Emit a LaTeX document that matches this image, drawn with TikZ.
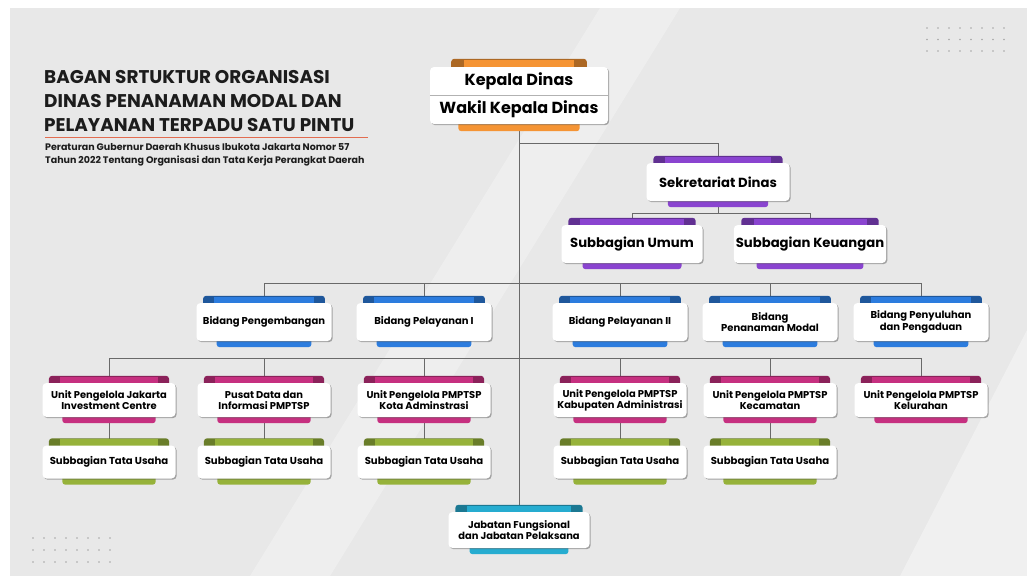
\documentclass[tikz,border=0pt]{standalone}
\usepackage{fontspec}
\setmainfont{Poppins}
\usetikzlibrary{positioning,shadows,calc}
\definecolor{BgGray}{RGB}{232,232,232}
\definecolor{LineGray}{RGB}{105,105,105}
\definecolor{TitleInk}{RGB}{28,28,28}
\definecolor{RuleRed}{RGB}{226,108,80}
\definecolor{Orange1}{RGB}{245,148,52}
\definecolor{Purple1}{RGB}{138,68,208}
\definecolor{Blue1}{RGB}{44,124,222}
\definecolor{Pink1}{RGB}{198,48,128}
\definecolor{Green1}{RGB}{150,178,58}
\definecolor{Cyan1}{RGB}{38,172,208}
\pgfdeclarelayer{bg}
\pgfdeclarelayer{tabs}
\pgfsetlayers{bg,tabs,main}
\tikzstyle{box} = [rectangle, fill=white, rounded corners=4pt, align=center,
    text=black, inner sep=2pt,
    drop shadow={shadow xshift=1.2pt, shadow yshift=-1.2pt, opacity=0.45, fill=black!70}]
\tikzstyle{line} = [draw=LineGray, line width=1pt]
\tikzstyle{sekre} = [box, minimum height=38pt, font=\fontsize{13.2}{15}\selectfont\bfseries]
\tikzstyle{bidang} = [box, minimum width=135pt, minimum height=38pt, font=\fontsize{10}{11.5}\selectfont\bfseries]
\tikzstyle{unit} = [box, minimum width=133pt, minimum height=34pt, font=\fontsize{9.9}{10.8}\selectfont\bfseries]
\tikzstyle{tatausaha} = [box, minimum width=133pt, minimum height=33pt, font=\fontsize{10.1}{11}\selectfont\bfseries]

\begin{document}
\begin{tikzpicture}[x=1pt, y=-1pt]
  \useasboundingbox (0,0) rectangle (1033,576);
  % background
  \begin{pgfonlayer}{bg}
    \fill[BgGray] (10,8) rectangle (1027,576);
    \fill[white, opacity=0.3] (250,576) -- (330,576) -- (680,8) -- (600,8) -- cycle;
    \fill[white, opacity=0.35] (900,576) -- (1027,576) -- (1027,330) -- cycle;
    \foreach \i in {0,...,7}
      \foreach \j in {0,1,2} {
        \fill[gray!70] (927+\i*11, 28+\j*11.5) circle (0.9pt);
        \fill[gray!70] (33+\i*11, 538+\j*12) circle (0.9pt);
      }
  \end{pgfonlayer}
  % title
  \node[anchor=north west, inner sep=0pt, align=left, text=TitleInk,
        font=\fontsize{18.4}{24}\selectfont\bfseries] (title) at (44,70)
        {BAGAN SRTUKTUR ORGANISASI\\DINAS PENANAMAN MODAL DAN\\PELAYANAN TERPADU SATU PINTU};
  \draw[RuleRed, line width=0.8pt] (45,137) -- (368,137);
  \node[anchor=north west, inner sep=0pt, align=left, text=TitleInk,
        font=\fontsize{9.5}{13}\selectfont\bfseries] (subtitle) at (45,143)
        {Peraturan Gubernur Daerah Khusus Ibukota Jakarta Nomor 57\\Tahun 2022 Tentang Organisasi dan Tata Kerja Perangkat Daerah};
  % top
  \node[box, minimum width=178pt, minimum height=57pt, font=\fontsize{16}{28}\selectfont\bfseries] (kd) at (519,95.5)
        {Kepala Dinas\\Wakil Kepala Dinas};
  \draw[gray!60, line width=0.8pt] (kd.west) -- (kd.east);
  \node[sekre, minimum width=143pt] (sek) at (718,182) {Sekretariat Dinas};
  \node[sekre, minimum width=141pt] (su) at (632,244) {Subbagian Umum};
  \node[sekre, minimum width=145pt] (sk) at (810,244) {Subbagian Keuangan};
  % bidang
  \node[bidang] (bp1) at (264,322) {Bidang Pengembangan};
  \node[bidang] (bp2) at (424,322) {Bidang Pelayanan I};
  \node[bidang] (bp3) at (620,322) {Bidang Pelayanan II};
  \node[bidang] (bp4) at (770,322) {Bidang\\Penanaman Modal};
  \node[bidang] (bp5) at (921,322) {Bidang Penyuluhan\\dan Pengaduan};
  % unit pengelola
  \node[unit] (u1) at (109,400) {Unit Pengelola Jakarta\\Investment Centre};
  \node[unit] (u2) at (264,400) {Pusat Data dan\\Informasi PMPTSP};
  \node[unit] (u3) at (424,400) {Unit Pengelola PMPTSP\\Kota Adminstrasi};
  \node[unit] (u4) at (620,400) {Unit Pengelola PMPTSP\\Kabupaten Administrasi};
  \node[unit] (u5) at (770,400) {Unit Pengelola PMPTSP\\Kecamatan};
  \node[unit] (u6) at (921,400) {Unit Pengelola PMPTSP\\Kelurahan};
  % subbagian tata usaha
  \foreach \i/\x in {1/109, 2/264, 3/424, 4/620, 5/770}
    \node[tatausaha] (tu\i) at (\x,462) {Subbagian Tata Usaha};
  \node[unit, minimum width=141pt, minimum height=36pt] (jf) at (519,530) {Jabatan Fungsional\\dan Jabatan Pelaksana};
  % connectors and tabs behind the boxes
  \begin{pgfonlayer}{tabs}
    \coordinate (bsek) at (519,143);
    \coordinate (bsub) at (718,213);
    \coordinate (bbid) at (519,283);
    \coordinate (bunit) at (519,358);
    \path[line] (kd.south) -- (jf.north);
    \path[line] (bsek) -| (sek.north);
    \path[line] (sek.south) -- (bsub);
    \foreach \n in {su,sk}
      \path[line] (bsub) -| (\n.north);
    \foreach \n in {bp1,bp2,bp3,bp4,bp5}
      \path[line] (bbid) -| (\n.north);
    \foreach \n in {u1,u2,u3,u4,u5,u6}
      \path[line] (bunit) -| (\n.north);
    \foreach \i in {1,...,5}
      \path[line] (u\i) -- (tu\i);
    %
    \fill[Orange1!70!black, rounded corners=3pt]
      ([yshift=-4pt]$(kd.north west)!0.12!(kd.north east)$) rectangle ([yshift=8pt]$(kd.north west)!0.88!(kd.north east)$);
    \fill[Orange1]
      ([yshift=-4pt]$(kd.north west)!0.19!(kd.north east)$) rectangle ([yshift=7pt]$(kd.north west)!0.81!(kd.north east)$);
    \fill[Orange1, rounded corners=3pt]
      ([yshift=4pt]$(kd.south west)!0.16!(kd.south east)$) rectangle ([yshift=-7pt]$(kd.south west)!0.84!(kd.south east)$);
    \foreach \n/\col in {sek/Purple1, su/Purple1, sk/Purple1,
        bp1/Blue1, bp2/Blue1, bp3/Blue1, bp4/Blue1, bp5/Blue1,
        u1/Pink1, u2/Pink1, u3/Pink1, u4/Pink1, u5/Pink1, u6/Pink1,
        tu1/Green1, tu2/Green1, tu3/Green1, tu4/Green1, tu5/Green1, jf/Cyan1} {
      \fill[\col!70!black, rounded corners=3pt]
        ([yshift=-4pt]$(\n.north west)!0.05!(\n.north east)$) rectangle ([yshift=7pt]$(\n.north west)!0.95!(\n.north east)$);
      \fill[\col]
        ([yshift=-4pt]$(\n.north west)!0.13!(\n.north east)$) rectangle ([yshift=6pt]$(\n.north west)!0.87!(\n.north east)$);
      \fill[\col, rounded corners=3pt]
        ([yshift=4pt]$(\n.south west)!0.15!(\n.south east)$) rectangle ([yshift=-6pt]$(\n.south west)!0.85!(\n.south east)$);
    }
  \end{pgfonlayer}
\end{tikzpicture}
\end{document}
